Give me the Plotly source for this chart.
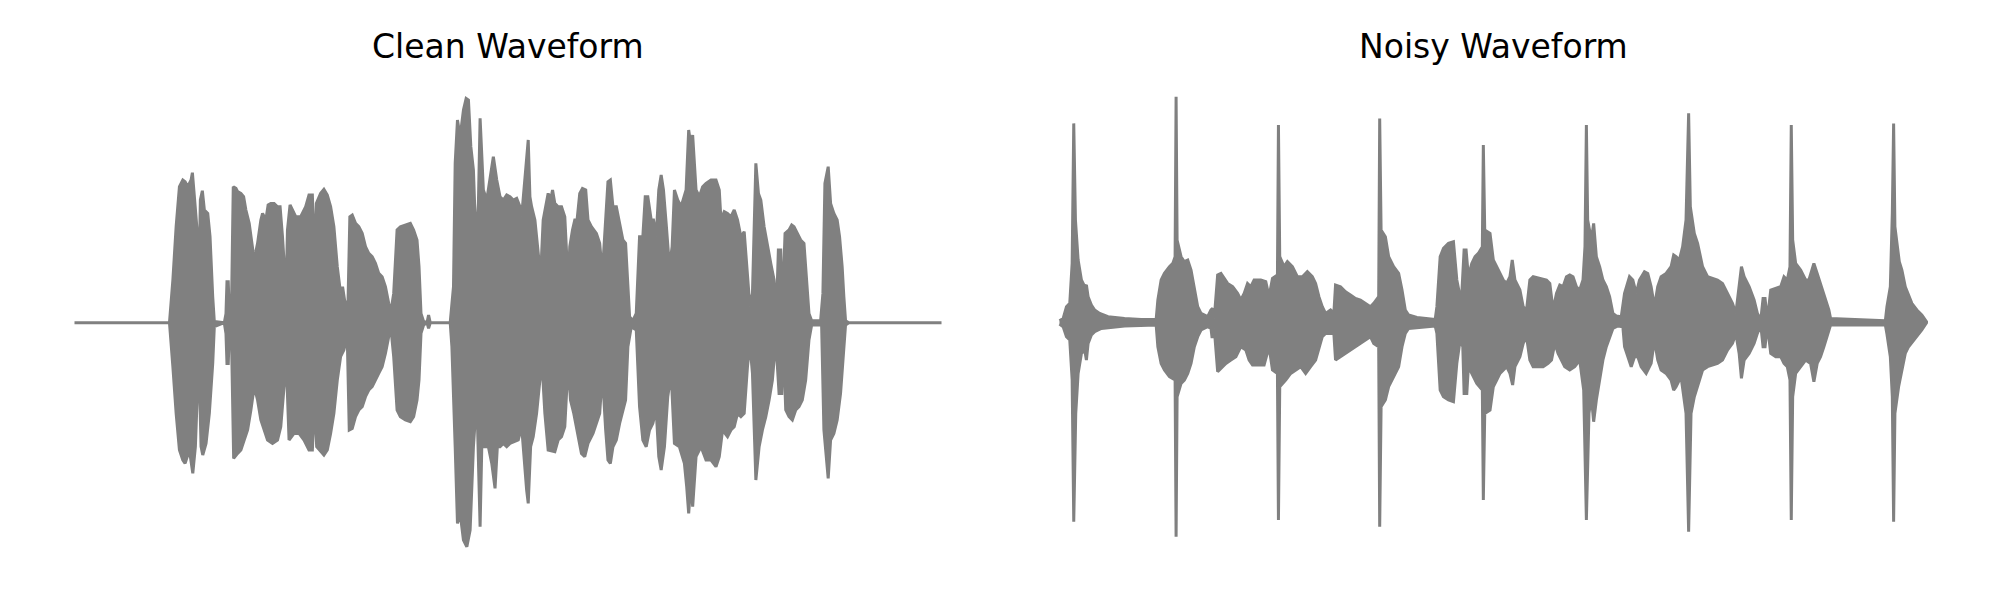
import plotly.graph_objects as go

# ---------------- Clean waveform envelope (time units, amplitude units) -------------
clean_upper_t = [
    0, 95.3, 98.7, 102, 105.3, 108.7, 111, 113.7, 117, 118.3,
    120.3, 123, 124.7, 126.3, 128.3, 130.3, 133.7, 136, 138.7, 140.3,
    150.3, 152, 153, 154.3, 155.3, 157.7, 159.3, 162, 163.7, 167,
    169.7, 172, 175.3, 178.7, 180.3, 183.7, 187, 188.7, 192, 194.3,
    197, 200.3, 203.7, 206.3, 208.7, 212.3, 213.7, 216.3, 218.7, 222,
    227, 232, 235.3, 238.7, 240.7, 242.7, 247, 250.3, 253.7, 257,
    260.3, 263.7, 267, 269, 271, 274.3, 276.3, 278.7, 282, 285.3,
    288.7, 292, 295.3, 298.7, 302, 305.3, 308.7, 312, 315.3, 317.7,
    320.3, 323.7, 327, 332, 337, 340.3, 343.7, 345.7, 347.7, 350.3,
    353.7, 355.3, 357, 377, 380.3, 382, 384.3, 387, 390.3, 393,
    395.3, 397.7, 400.3, 403, 405.3, 407, 408.7, 410.3, 413.7, 417,
    420.3, 423.7, 427, 430.3, 433.7, 437, 440.3, 443.7, 447, 448.7,
    451, 453.7, 455.3, 457, 458.7, 462, 465.3, 467.7, 470.3, 472.7,
    475.3, 477.7, 479.7, 482, 485.3, 488.7, 492, 495.3, 497, 499.7,
    502, 504.3, 507, 509.7, 513, 515.3, 518.7, 523.7, 527, 529.7,
    533, 535.3, 537.7, 540.3, 543.7, 547, 550.3, 553, 554.7, 557,
    560.3, 563.7, 567, 570.3, 572.7, 575.3, 578.7, 581, 583.7, 586.3,
    588.7, 591, 593.7, 597, 599.7, 602, 605.3, 608.7, 613.7, 616.3,
    618.7, 620.3, 623.7, 627, 630.3, 633.7, 638.7, 643.7, 647, 648.7,
    652, 655.3, 658.7, 662, 665.3, 668.7, 672, 675.3, 677.7, 680.3,
    682, 683.7, 686.3, 688.7, 692, 695.3, 698.7, 702, 704.3, 706.3,
    708.7, 710.3, 713, 717, 719.7, 722, 725.3, 728.7, 732, 734.3,
    737, 739.7, 748.7, 751, 753, 756.3, 758.7, 762, 765.3, 767.7,
    770.3, 772, 773.7, 777, 870,
]
clean_upper = [
    0, 0, 42.7, 96, 136, 142.7, 141, 136, 142.7, 150,
    126, 92.7, 29.3, 122.7, 132, 112.7, 109.3, 86, 26, 1.3,
    0, 9, 41, 41, 9, 26, 136, 134.3, 131, 129.3,
    126, 112.7, 99.3, 76, 62.7, 79.3, 102.7, 109.3, 102.7, 117.7,
    119.3, 119.3, 116, 116, 86, 29.3, 92.7, 117.7, 112.7, 106,
    106, 116, 127.7, 127.7, 62.7, 119.3, 129.3, 133.3, 127.7, 116,
    96, 56, 29.3, 36, 22.7, 12.7, 106, 107.7, 99.3, 96,
    89.3, 76, 69.3, 66, 59.3, 49.3, 46, 36, 19.3, 12.7,
    29.3, 92.7, 96, 97.7, 99.3, 92.7, 82.7, 56, 9.3, 1.3,
    0, 7.7, 0, 0, 36, 159.3, 202.7, 186, 212.7, 224.3,
    222.7, 176, 152.7, 76, 119.3, 204.3, 159.3, 132.7, 122.7, 142.7,
    166, 142.7, 126, 122.7, 127.7, 126, 122.7, 124.3, 116, 106,
    132.7, 162.7, 182.7, 126, 116, 102.7, 69.3, 46, 102.7, 116,
    129.3, 122.7, 132.7, 119.3, 116, 116, 106, 39.3, 76, 92.7,
    102.7, 102.7, 129.3, 134.3, 132.7, 102.7, 96, 89.3, 79.3, 49.3,
    102.7, 141, 142.7, 116, 116, 99.3, 82.7, 79.3, 42.7, 6,
    2, 9.3, 86, 86, 126, 126, 102.7, 102.7, 86, 132.7,
    147.7, 132.7, 99.3, 56, 76, 132.7, 122.7, 116, 132.7, 192.7,
    176, 187.7, 132.7, 126, 136, 139.3, 142.7, 142.7, 132.7, 102.7,
    111, 109.3, 106, 112.7, 102.7, 86, 91, 42.7, 16, 29.3,
    92.7, 159.3, 129.3, 122.7, 96, 76, 59.3, 42.7, 9.3, 72.7,
    72.7, 9.3, 89.3, 92.7, 97.7, 96, 89.3, 82.7, 79.3, 49.3,
    9.3, 2, 2, 29.3, 139.3, 156, 119.3, 109.3, 102.7, 86,
    56, 26, 2, 0, 0,
]
clean_lower_t = [
    0, 95.3, 98.7, 102, 105.3, 108.7, 111, 115.3, 118.7, 121.3,
    124.7, 127, 128.7, 132, 135.3, 138.7, 140.3, 150.3, 152, 153,
    154.3, 155.3, 157.7, 159.7, 163.7, 167, 170.3, 173.7, 177, 180.3,
    183.7, 187, 190.3, 193.7, 198.7, 203.7, 207, 210.3, 212.7, 215.3,
    220.3, 225.3, 230.3, 235.3, 238.7, 241, 243, 250.3, 253.7, 257,
    260.3, 263.7, 267, 270.3, 273.7, 275.7, 278.7, 282, 285.3, 288.7,
    292, 295.3, 298.7, 302, 305.3, 308.7, 312, 315.3, 317.7, 320.3,
    323.7, 327, 332, 337, 340.3, 343.7, 345.7, 347.7, 350.3, 353.7,
    355.3, 357, 377, 378.7, 382, 384.3, 387, 390.3, 393.7, 397,
    400.3, 403.7, 407, 408.7, 415.3, 418.7, 422, 424.3, 427, 430.3,
    433.7, 437, 445.3, 448.7, 451, 453.7, 455.3, 457.7, 460.3, 463.7,
    467, 469.7, 472, 475.3, 482, 485.3, 488.7, 492, 495.3, 497.7,
    501, 504.3, 508.7, 512, 515.3, 520.3, 523.7, 527, 529.7, 533,
    535.3, 537.7, 540.3, 543.7, 547, 550.3, 553, 555.3, 558.7, 563.7,
    567, 570.3, 573.7, 577, 580.3, 583.7, 586.3, 588.7, 592, 595.3,
    598.7, 602, 607, 612, 614.3, 616.3, 618.7, 620.3, 623.7, 628.7,
    633.7, 638.7, 643.7, 647, 650.3, 655.3, 658.7, 662, 665.3, 668.7,
    672, 675.3, 677.7, 680.3, 683.7, 687, 690.3, 693.7, 697, 700.3,
    703.7, 707, 709.7, 711, 713.7, 717, 720.3, 723.7, 727, 730.3,
    733.7, 737, 739.7, 749.7, 752, 756.3, 758.7, 762, 765.3, 768.7,
    772, 773.7, 777, 870,
]
clean_lower = [
    0, 0, -44, -90.7, -127.3, -137.3, -140.7, -127.3, -150.7, -124,
    -30.7, -124, -132.3, -120.7, -90.7, -40.7, -4, 0, -10.7, -40.7,
    -40.7, -10.7, -24, -135.7, -130.7, -127.3, -117.3, -107.3, -87.3, -64,
    -77.3, -97.3, -107.3, -117.3, -120.7, -117.3, -104, -64, -44, -117.3,
    -110.7, -110.7, -117.3, -127.3, -127.3, -77.3, -124, -132.3, -127.3, -110.7,
    -90.7, -57.3, -34, -27.3, -14, -107.3, -105.7, -94, -87.3, -84,
    -74, -67.3, -64, -57.3, -50.7, -44, -30.7, -14, -7.3, -34,
    -87.3, -94, -97.3, -99, -94, -77.3, -57.3, -10.7, -2.3, 0,
    -5.7, 0, 0, -24, -124, -200.7, -190.7, -217.3, -224, -207.3,
    -124, -74, -204, -124, -124, -140.7, -165.7, -124, -124, -120.7,
    -124, -120.7, -117.3, -104, -127.3, -167.3, -180.7, -124, -114, -90.7,
    -57.3, -50.7, -90.7, -127.3, -129, -117.3, -114, -104, -40.7, -77.3,
    -90.7, -107.3, -130.7, -134, -120.7, -110.7, -100.7, -90.7, -50.7, -107.3,
    -137.3, -140.7, -124, -117.3, -100.7, -87.3, -77.3, -24, -4, -7.3,
    -84, -117.3, -124, -107.3, -100.7, -87.3, -134, -147.3, -124, -74,
    -50.7, -120.7, -124, -140.7, -164, -190.7, -157.3, -184, -134, -124,
    -137.3, -137.3, -144, -134, -107.3, -114, -107.3, -104, -90.7, -94,
    -90.7, -44, -20.7, -50.7, -157.3, -124, -107.3, -94, -77.3, -57.3,
    -17.3, -70.7, -70.7, -10.7, -87.3, -94, -97.3, -87.3, -84, -77.3,
    -57.3, -17.3, -2.3, -2.3, -107.3, -155.7, -117.3, -110.7, -97.3, -70.7,
    -24, -2.3, 0, 0,
]

# ---------------- Noisy waveform envelope -------------
noisy_upper_t = [
    0, 3.7, 7, 10.3, 12.7, 14.3, 16, 18.7, 22, 25.3,
    27, 28.7, 32, 35.3, 40.3, 48.7, 65.3, 82, 97, 98.7,
    102, 105.3, 110.3, 113.7, 116, 117, 118, 122, 125.3, 128.7,
    132, 135.3, 138.7, 142, 148.7, 152, 153.7, 155.3, 158.7, 162,
    165.3, 168.7, 173.7, 178.7, 182, 185.3, 188.7, 192, 195.3, 202,
    207, 210.3, 213.7, 218.7, 219.7, 221, 225.3, 228.7, 233.7, 238.7,
    243.7, 248.7, 253.7, 257, 260.3, 263.7, 267, 272, 275.3, 277,
    282, 287, 292, 297, 302, 307, 312, 315.3, 320.3, 321.3,
    322.7, 327, 330.3, 335.3, 340.3, 343.7, 347, 350.3, 358.7, 377,
    378.7, 382, 385.3, 390.3, 395.3, 398.7, 402, 403.7, 406, 408,
    410.3, 413.7, 417, 420.3, 424.3, 425.3, 426.7, 432, 435.3, 438.7,
    442, 445.3, 448.7, 452, 454.3, 457, 462, 465.3, 468.7, 472,
    475.3, 482, 488.7, 492, 495.3, 498.7, 502, 505.3, 508.7, 512,
    515.3, 518.7, 522, 525.3, 527.3, 528.7, 530, 533.7, 536, 538.7,
    542, 545.3, 548.7, 552, 555.3, 558.7, 563.7, 567, 572, 575.3,
    578.7, 582, 587, 590.3, 593.7, 597, 600.3, 603.7, 608.7, 613.7,
    616.3, 618.7, 622, 625.3, 628.7, 631.3, 633, 637, 640.3, 645.3,
    650.3, 660.3, 665.3, 670.3, 675.3, 678.7, 682, 684.3, 687, 692,
    697, 700.3, 703.7, 706, 708, 710.3, 713.7, 718.7, 723.7, 727,
    730.3, 733, 734.3, 735.7, 738.7, 743.7, 748.7, 752, 754.7, 757,
    760.3, 763.7, 767, 770.3, 772, 773.7, 798.7, 828.7, 830.3, 833.7,
    835.7, 837, 838.3, 842.7, 845.3, 848.7, 851.3, 855.3, 860.3, 865.3,
    870,
]
noisy_upper = [
    2, 4.3, 16, 19.3, 59.3, 199.3, 102.7, 62.7, 42.7, 36,
    37.7, 26, 17.7, 12.7, 9.3, 6, 4.3, 3.3, 3.3, 22.7,
    42.7, 49.3, 56, 59.3, 66, 226, 82.7, 66, 61, 62.7,
    52.7, 36, 16, 9.3, 6, 12.7, 14.3, 4.3, 47.7, 49.3,
    44.3, 39.3, 36, 29.3, 22.7, 29.3, 39.3, 36, 42.7, 42.7,
    41, 26, 44.3, 47.7, 197.7, 66, 56, 61, 56, 46,
    46, 51, 46, 39.3, 26, 16, 9.3, 12.7, 9.3, 37.7,
    36, 31, 27.7, 24.3, 22.7, 19.3, 16, 19.3, 26, 204.3,
    92.7, 86, 66, 56, 49.3, 32.7, 12.7, 7.7, 5.3, 3.3,
    16, 66, 74.3, 79.3, 81, 42.7, 26, 29.3, 72.7, 72.7,
    46, 59.3, 66, 69.3, 76, 177.7, 92.7, 89.3, 62.7, 56,
    49.3, 42.7, 39.3, 46, 62.7, 42.7, 32.7, 16, 12.7, 42.7,
    46, 44.3, 42.7, 39.3, 12.7, 29.3, 37.7, 36, 46, 47.7,
    46, 36, 32.7, 42.7, 76, 197.7, 102.7, 82.7, 99.3, 66,
    56, 42.7, 36, 26, 9.3, 6.7, 6, 29.3, 46, 42.7,
    29.3, 42.7, 51, 49.3, 36, 16, 36, 46, 49.3, 56,
    67.7, 66, 62.7, 76, 102.7, 209.3, 116, 89.3, 79.3, 56,
    46, 42.7, 39.3, 29.3, 19.3, 9.3, 36, 56, 46, 36,
    22.7, 9.3, 2.7, 24.3, 24.3, 2.7, 32.7, 34.3, 36, 46,
    42.7, 56, 197.7, 82.7, 59.3, 52.7, 42.7, 42.7, 52.7, 59.3,
    49.3, 39.3, 29.3, 19.3, 12.7, 4.3, 3.3, 2, 16, 36,
    109.3, 199.3, 96, 61, 52.7, 36, 29.3, 19.3, 12.7, 7.7,
    1,
]
noisy_lower_t = [
    0, 3.7, 7, 10.3, 12.7, 14.3, 16.3, 18.7, 22, 25.3,
    27, 28.7, 32, 35.3, 42, 65.3, 97, 98.7, 102, 105.3,
    110.3, 116, 117, 118, 122, 125.3, 128.7, 132, 135.3, 138.7,
    142, 148.7, 152, 153, 154.3, 155.3, 158.7, 163.7, 167, 172,
    177, 182, 187, 190.3, 193.7, 205.3, 210.3, 213.7, 218.7, 219.7,
    221, 227, 232, 237, 242, 247, 252, 257, 260.3, 263.7,
    267, 275.3, 277, 282, 287, 292, 297, 302, 307, 312,
    315.3, 320.3, 321.3, 322.7, 327, 330.3, 335.3, 340.3, 343.7, 347,
    350.3, 377, 378.7, 382, 385.3, 390.3, 395.3, 398.7, 402, 404.7,
    406, 408.7, 410.3, 413.7, 418.7, 424.3, 425.3, 426.7, 432, 435.3,
    438.7, 442, 445.3, 448.7, 452, 454.7, 457, 462, 465.3, 468.7,
    472, 475.3, 485.3, 490.3, 493.7, 497, 500.3, 503.7, 507, 512,
    517, 522, 526, 528.7, 531.3, 533.7, 536, 538.7, 542, 545.3,
    548.7, 552, 555.3, 560.3, 565.3, 567, 570.3, 573.7, 577, 580.3,
    583.7, 588.7, 593.7, 597, 600.3, 603.7, 608.7, 613.7, 616.3, 618.7,
    623.7, 628.7, 631.3, 633.7, 637, 640.3, 645.3, 650.3, 660.3, 665.3,
    670.3, 675.3, 678.7, 682, 684.3, 687, 692, 697, 700.3, 703.7,
    706, 708, 710.3, 713.7, 718.7, 723.7, 727, 730.3, 733, 734.3,
    735.7, 738.7, 743.7, 748.7, 753.7, 757, 760.3, 763.7, 767, 770.3,
    772, 773.7, 828.7, 830.3, 833.7, 835.7, 837, 838.3, 842, 845.3,
    848.7, 852, 855.3, 860.3, 865.3, 870,
]
noisy_lower = [
    -1.3, -4, -14, -17.3, -57.3, -199, -90.7, -50.7, -30.7, -27.3,
    -37.3, -20.7, -12.3, -9, -5.7, -3.3, -2.3, -24, -40.7, -47.3,
    -54, -57.3, -214, -74, -60.7, -57.3, -50.7, -40.7, -24, -14,
    -7.3, -4, -5.7, -14, -14, -5.7, -49, -44, -40.7, -37.3,
    -34, -24, -27.3, -37.3, -42.3, -42.3, -24, -47.3, -50.7, -197.3,
    -64, -57.3, -50.7, -47.3, -44, -50.7, -44, -37.3, -27.3, -14,
    -10.7, -10.7, -37.3, -34, -30.7, -27.3, -24, -20.7, -17.3, -14,
    -20.7, -24, -204, -84, -77.3, -64, -54, -44, -24, -10.7,
    -5.7, -3.3, -10.7, -67.3, -74, -77.3, -79, -40.7, -17.3, -24,
    -70.7, -70.7, -44, -50.7, -60.7, -67.3, -177.3, -90.7, -87.3, -64,
    -57.3, -50.7, -47.3, -44, -50.7, -62.3, -44, -34, -20.7, -14,
    -37.3, -44, -44, -40.7, -37.3, -20.7, -30.7, -37.3, -44, -47.3,
    -44, -37.3, -67.3, -197.3, -90.7, -74, -99, -77.3, -57.3, -37.3,
    -24, -15.7, -5.7, -3.3, -4, -24, -34, -44, -34, -34,
    -44, -50.7, -40.7, -17.3, -37.3, -47.3, -50.7, -57.3, -67.3, -64,
    -54, -90.7, -209, -90.7, -74, -64, -47.3, -44, -40.7, -37.3,
    -27.3, -20.7, -10.7, -30.7, -55.7, -37.3, -30.7, -20.7, -10.7, -2.3,
    -24, -24, -2.3, -30.7, -34, -34, -40.7, -44, -57.3, -197.3,
    -74, -50.7, -44, -37.3, -40.7, -59, -40.7, -34, -24, -14,
    -7.3, -2.3, -2.3, -11.3, -34, -74, -199, -90.7, -64, -47.3,
    -30.7, -24, -20.7, -14, -7.3, 0,
]

titles = ["Clean Waveform", "Noisy Waveform"]

for a, b in [(clean_upper_t, clean_upper), (clean_lower_t, clean_lower),
             (noisy_upper_t, noisy_upper), (noisy_lower_t, noisy_lower)]:
    assert len(a) == len(b), (len(a), len(b))

GRAY = "#808080"


def outline(tu, au, tl, al):
    return list(tu) + list(reversed(tl)), list(au) + list(reversed(al))


fig = go.Figure()
panels = [
    (clean_upper_t, clean_upper, clean_lower_t, clean_lower, "x", "y"),
    (noisy_upper_t, noisy_upper, noisy_lower_t, noisy_lower, "x2", "y2"),
]
for tu, au, tl, al, xa, ya in panels:
    xs, ys = outline(tu, au, tl, al)
    fig.add_trace(go.Scatter(
        x=xs, y=ys, mode="lines", fill="toself", fillcolor=GRAY,
        line=dict(color=GRAY, width=3), xaxis=xa, yaxis=ya,
        hoverinfo="skip", showlegend=False,
    ))

W, H = 2000, 600
ax_common = dict(visible=False, showgrid=False, zeroline=False, fixedrange=True)
fig.update_layout(
    width=W, height=H,
    margin=dict(l=0, r=0, t=0, b=0),
    paper_bgcolor="white", plot_bgcolor="white",
    xaxis=dict(domain=[73 / W, 943 / W], range=[-1.5, 871.5], anchor="y", **ax_common),
    xaxis2=dict(domain=[1058 / W, 1928 / W], range=[-1.5, 871.5], anchor="y2", **ax_common),
    yaxis=dict(domain=[0, 1], range=[-277.3, 322.7], anchor="x", **ax_common),
    yaxis2=dict(domain=[0, 1], range=[-277.3, 322.7], anchor="x2", **ax_common),
    annotations=[
        dict(text=titles[0], x=508 / W, y=(H - 46) / H, xref="paper", yref="paper",
             xanchor="center", yanchor="middle", showarrow=False,
             font=dict(family="DejaVu Sans", size=33, color="black")),
        dict(text=titles[1], x=1493 / W, y=(H - 46) / H, xref="paper", yref="paper",
             xanchor="center", yanchor="middle", showarrow=False,
             font=dict(family="DejaVu Sans", size=33, color="black")),
    ],
)

fig.write_html(
    "out.html",
    config={"displayModeBar": False, "staticPlot": True},
    post_script="document.body.style.margin='0';document.body.style.overflow='hidden';",
)
